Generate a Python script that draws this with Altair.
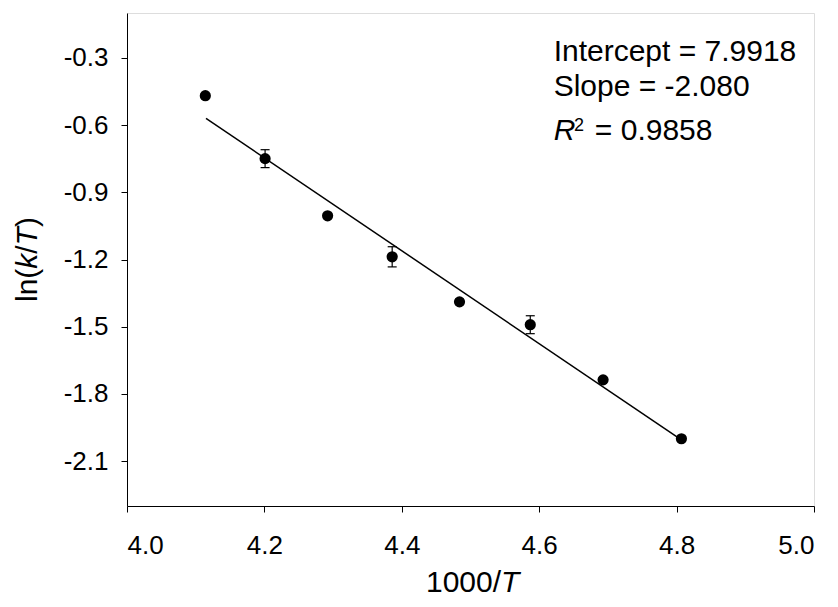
import altair as alt
import pandas as pd

# ---- data ----
x_vals = [4.114, 4.201, 4.292, 4.386, 4.484, 4.587, 4.693, 4.807]
y_vals = [-0.469, -0.750, -1.005, -1.188, -1.389, -1.491, -1.737, -2.000]
y_err = [0.0, 0.040, 0.0, 0.045, 0.012, 0.040, 0.008, 0.0]

fit_x = [4.115, 4.807]
fit_y = [-0.570, -2.005]

x_ticks = [4.0, 4.2, 4.4, 4.6, 4.8, 5.0]
y_ticks = [-0.3, -0.6, -0.9, -1.2, -1.5, -1.8, -2.1]

ann_lines = ["Intercept = 7.9918", "Slope = -2.080", "= 0.9858"]
ann_x = [4.621, 4.621, 4.681]
ann_y = [-0.316, -0.469, -0.665]
r_text = ["R"]
r_x = [4.621]
r_y = [-0.665]
sup_text = ["2"]
sup_x = [4.6505]
sup_y = [-0.626]

y_title_parts = ["ln(", "k", "/", "T", ")"]
x_title_parts = ["1000/", "T"]

FONT = "Liberation Sans"

pts = pd.DataFrame({"x": x_vals, "y": y_vals, "err": y_err})
pts["lo"] = pts["y"] - pts["err"]
pts["hi"] = pts["y"] + pts["err"]
fit = pd.DataFrame({"x": fit_x, "y": fit_y})

xscale = alt.Scale(domain=[4.0, 5.0], nice=False, zero=False)
yscale = alt.Scale(domain=[-2.3, -0.1], nice=False, zero=False)

lab = "datum.value < 0 ? '-' + format(-datum.value, '.1f') : format(datum.value, '.1f')"

x_axis = alt.Axis(values=x_ticks, labelExpr=lab, title=None, grid=False, tickSize=6,
                  labelFontSize=26, labelPadding=20, labelFont=FONT, labelColor="black",
                  domainColor="black", tickColor="black", domainWidth=1, tickWidth=1)
y_axis = alt.Axis(values=y_ticks, labelExpr=lab, title=None, grid=False, tickSize=6,
                  labelFontSize=26, labelPadding=13, labelFont=FONT, labelColor="black",
                  domainColor="black", tickColor="black", domainWidth=1, tickWidth=1)

X = lambda f: alt.X(f, scale=xscale)
Y = lambda f: alt.Y(f, scale=yscale)

line = alt.Chart(fit).mark_line(color="black", strokeWidth=1.5).encode(
    x=alt.X("x:Q", scale=xscale, axis=x_axis), y=alt.Y("y:Q", scale=yscale, axis=y_axis))

errs = alt.Chart(pts).transform_filter("datum.err > 0")
bars = errs.mark_rule(color="black", strokeWidth=1.2).encode(x=X("x:Q"), y=Y("lo:Q"), y2="hi:Q")
cap_lo = errs.mark_tick(orient="horizontal", size=9, thickness=1.2, color="black", opacity=1).encode(
    x=X("x:Q"), y=Y("lo:Q"))
cap_hi = errs.mark_tick(orient="horizontal", size=9, thickness=1.2, color="black", opacity=1).encode(
    x=X("x:Q"), y=Y("hi:Q"))

points = alt.Chart(pts).mark_circle(size=125, color="black", opacity=1).encode(
    x=X("x:Q"), y=Y("y:Q"))

ann = alt.Chart(pd.DataFrame({"x": ann_x, "y": ann_y, "t": ann_lines})).mark_text(
    align="left", baseline="alphabetic", fontSize=30, font=FONT, color="black").encode(
    x=X("x:Q"), y=Y("y:Q"), text="t:N")
ann_r = alt.Chart(pd.DataFrame({"x": r_x, "y": r_y, "t": r_text})).mark_text(
    align="left", baseline="alphabetic", fontSize=30, font=FONT, fontStyle="italic",
    color="black").encode(x=X("x:Q"), y=Y("y:Q"), text="t:N")
ann_sup = alt.Chart(pd.DataFrame({"x": sup_x, "y": sup_y, "t": sup_text})).mark_text(
    align="left", baseline="alphabetic", fontSize=18, font=FONT, color="black").encode(
    x=X("x:Q"), y=Y("y:Q"), text="t:N")

# axis titles built from pieces (for the italic variables)
y_widths = [33.3, 15.0, 8.3, 18.3, 10.0]
y_italic = [False, True, False, True, False]
title_layers = []
pos = 289
for part, w, it in zip(y_title_parts, y_widths, y_italic):
    kw = dict(fontStyle="italic") if it else {}
    title_layers.append(
        alt.Chart(pd.DataFrame({"t": [part]})).mark_text(
            align="left", baseline="alphabetic", angle=270, fontSize=30, font=FONT,
            color="black", **kw).encode(x=alt.value(-90), y=alt.value(pos), text="t:N"))
    pos -= w

x_widths = [75.1, 18.3]
x_italic = [False, True]
pos = 299
for part, w, it in zip(x_title_parts, x_widths, x_italic):
    kw = dict(fontStyle="italic") if it else {}
    title_layers.append(
        alt.Chart(pd.DataFrame({"t": [part]})).mark_text(
            align="left", baseline="alphabetic", fontSize=30, font=FONT,
            color="black", **kw).encode(x=alt.value(pos), y=alt.value(579), text="t:N"))
    pos += w

chart = alt.layer(line, bars, cap_lo, cap_hi, points, ann, ann_r, ann_sup, *title_layers).properties(
    width=687, height=493,
    autosize=alt.AutoSizeParams(type="none"),
    padding={"left": 119, "top": 5, "right": 14, "bottom": 97},
).configure_view(stroke="black", strokeWidth=1).configure(background="white")

chart.save("out.html", embed_options={"renderer": "svg", "actions": False})
